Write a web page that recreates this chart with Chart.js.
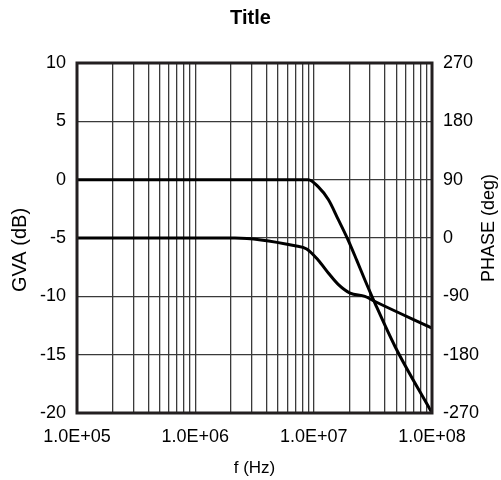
<!DOCTYPE html>
<html lang="en">
<head>
    <meta charset="UTF-8">
    <title>Title</title>
    <script src="https://cdn.jsdelivr.net/npm/chart.js"></script>
    <style>
        body { margin: 0; background: #fff; }
        #wrap { width: 501px; height: 480px; position: relative; }
    </style>
</head>
<body>
    <div id="wrap"><canvas id="bode"></canvas></div>

    <script>
        // gain curve: frequency (Hz) / GVA (dB)
        const gvaFreq = [1e5, 9.0e6, 1.09e7, 1.33e7, 1.62e7, 1.96e7, 2.31e7, 2.71e7, 3.30e7, 4.87e7, 1e8];
        const gvaDb = [0, 0, -0.6, -1.7, -3.45, -5.2, -6.9, -8.6, -10.6, -14.3, -20];

        // phase curve: frequency (Hz) / phase (deg)
        const phaseFreq = [1e5, 2.16e6, 6.96e6, 8.73e6, 1.09e7, 1.33e7, 1.62e7, 2.03e7, 2.71e7, 3.30e7, 1e8];
        const phaseDeg = [0, 0, -12, -17, -34, -54, -72, -85, -90, -98, -139];

        const decadeLabels = ['1.0E+05', '1.0E+06', '1.0E+07', '1.0E+08'];
        const gvaTicks = [-20, -15, -10, -5, 0, 5, 10];
        const phaseTicks = [-270, -180, -90, 0, 90, 180, 270];

        const FONT = 'Liberation Sans, Arial, sans-serif';
        const GRID = '#3a3a3a';
        const FRAME = '#231f20';
        const leftTitle = 'GVA (dB)';
        const rightTitle = 'PHASE (deg)';

        function sideTitle(ctx, text, size, x, y) {
            ctx.save();
            ctx.fillStyle = '#000';
            ctx.font = size + 'px ' + FONT;
            ctx.textAlign = 'center';
            ctx.textBaseline = 'middle';
            ctx.translate(x, y);
            ctx.rotate(-Math.PI / 2);
            ctx.fillText(text, 0, 0);
            ctx.restore();
        }

        // frame around plot area + both axis titles (read bottom to top)
        const framePlugin = {
            id: 'frame',
            afterDatasetsDraw(chart) {
                const { ctx, chartArea: a } = chart;
                ctx.save();
                ctx.strokeStyle = FRAME;
                ctx.lineWidth = 3;
                ctx.strokeRect(a.left, a.top, a.right - a.left, a.bottom - a.top);
                ctx.restore();

                const midY = (a.top + a.bottom) / 2;
                sideTitle(ctx, leftTitle, 20, 20, midY + 12);
                sideTitle(ctx, rightTitle, 18, 489, midY - 10);
            }
        };

        const ctx = document.getElementById('bode').getContext('2d');

        new Chart(ctx, {
            type: 'line',
            data: {
                datasets: [
                    {
                        label: 'GVA',
                        data: gvaFreq.map((f, i) => ({ x: f, y: gvaDb[i] })),
                        yAxisID: 'y',
                        borderColor: '#000',
                        borderWidth: 3,
                        pointRadius: 0,
                        cubicInterpolationMode: 'monotone'
                    },
                    {
                        label: 'PHASE',
                        data: phaseFreq.map((f, i) => ({ x: f, y: phaseDeg[i] })),
                        yAxisID: 'y2',
                        borderColor: '#000',
                        borderWidth: 3,
                        pointRadius: 0,
                        cubicInterpolationMode: 'monotone'
                    }
                ]
            },
            options: {
                responsive: true,
                maintainAspectRatio: false,
                animation: false,
                layout: { padding: 0 },
                plugins: {
                    legend: { display: false },
                    tooltip: { enabled: false },
                    title: {
                        display: true,
                        text: 'Title',
                        color: '#000',
                        font: { family: FONT, size: 20, weight: 'bold' },
                        padding: { top: 6, bottom: 33 }
                    }
                },
                scales: {
                    x: {
                        type: 'logarithmic',
                        min: 1e5,
                        max: 1e8,
                        afterBuildTicks: scale => {
                            const t = [];
                            for (let e = 5; e < 8; e++) {
                                for (let m = 1; m < 10; m++) t.push({ value: m * Math.pow(10, e) });
                            }
                            t.push({ value: 1e8 });
                            scale.ticks = t;
                        },
                        afterFit: s => { s.height = 67; },
                        grid: { color: GRID, lineWidth: 1.3, drawTicks: false },
                        border: { display: false },
                        ticks: {
                            autoSkip: false,
                            maxRotation: 0,
                            padding: 13,
                            color: '#000',
                            font: { family: FONT, size: 18 },
                            callback: value => {
                                const e = Math.log10(value);
                                return Math.abs(e - Math.round(e)) < 1e-9 ? decadeLabels[Math.round(e) - 5] : '';
                            }
                        },
                        title: {
                            display: true,
                            text: 'f (Hz)',
                            color: '#000',
                            font: { family: FONT, size: 17 },
                            padding: { top: 0, bottom: 1 }
                        }
                    },
                    y: {
                        position: 'left',
                        min: -20,
                        max: 10,
                        afterBuildTicks: scale => { scale.ticks = gvaTicks.map(v => ({ value: v })); },
                        afterFit: s => { s.width = 77; },
                        grid: { color: GRID, lineWidth: 1.2, drawTicks: false },
                        border: { display: false },
                        ticks: {
                            padding: 11,
                            color: '#000',
                            font: { family: FONT, size: 18 }
                        }
                    },
                    y2: {
                        position: 'right',
                        min: -270,
                        max: 270,
                        afterBuildTicks: scale => { scale.ticks = phaseTicks.map(v => ({ value: v })); },
                        afterFit: s => { s.width = 69; },
                        grid: { display: false, drawTicks: false },
                        border: { display: false },
                        ticks: {
                            padding: 11,
                            color: '#000',
                            font: { family: FONT, size: 18 }
                        }
                    }
                }
            },
            plugins: [framePlugin]
        });
    </script>
</body>
</html>
